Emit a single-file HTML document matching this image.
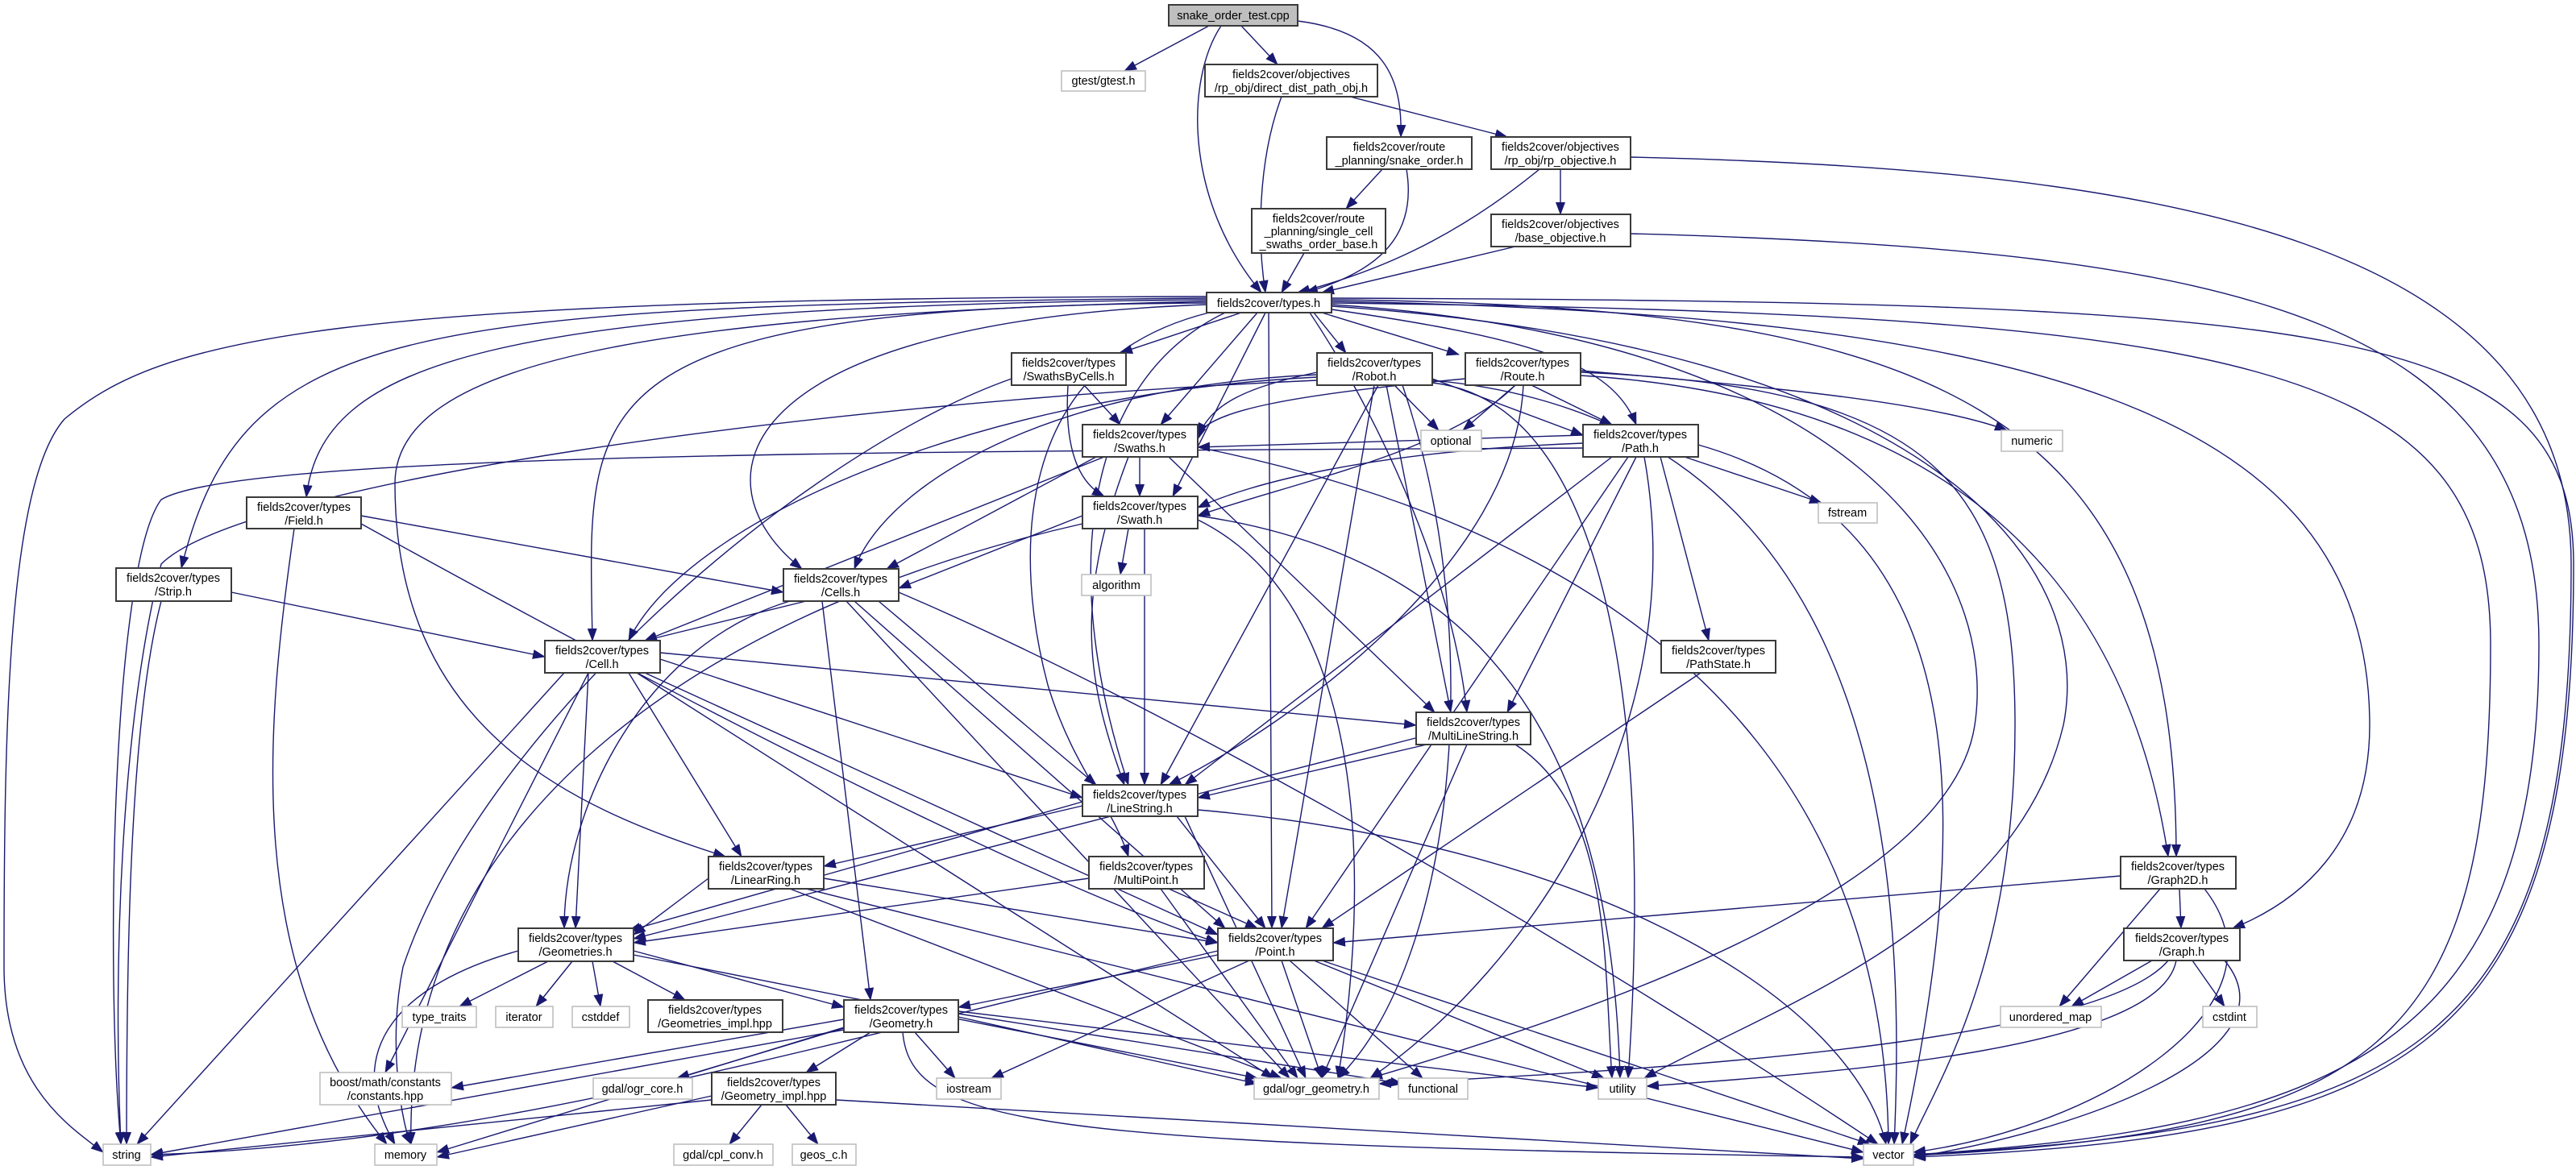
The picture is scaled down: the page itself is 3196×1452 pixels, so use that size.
<!DOCTYPE html>
<html><head><meta charset="utf-8"><style>
html,body{margin:0;padding:0;background:#fff;}
svg{display:block;}
text{font-family:"Liberation Sans","DejaVu Sans",sans-serif;font-size:14.5px;fill:#000;text-anchor:middle;}
.e{fill:none;stroke:#191970;stroke-width:1.4;marker-end:url(#a);}
.n{fill:#fff;stroke:#3a3a3a;stroke-width:2;}
.g{fill:#fff;stroke:#bfbfbf;stroke-width:1.6;}
</style></head><body>
<svg width="3196" height="1452" viewBox="0 0 3196 1452" xmlns="http://www.w3.org/2000/svg">
<defs><marker id="a" markerUnits="userSpaceOnUse" markerWidth="16" markerHeight="12" refX="15" refY="6" orient="auto"><path d="M0,0 L16,6 L0,12 z" fill="#191970"/></marker></defs>
<g>
<path class="e" d="M1500,32 L1395,88"/>
<path class="e" d="M1540,32 L1585,80"/>
<path class="e" d="M1515,32 C1470,100 1470,250 1565,363"/>
<path class="e" d="M1610,26 C1720,40 1740,100 1738,170"/>
<path class="e" d="M1590,120 C1560,200 1560,300 1570,363"/>
<path class="e" d="M1675,120 L1870,170"/>
<path class="e" d="M1715,210 L1670,259"/>
<path class="e" d="M1745,210 C1760,300 1700,340 1620,363"/>
<path class="e" d="M1910,210 C1800,300 1700,340 1610,363"/>
<path class="e" d="M1936,210 L1936,266"/>
<path class="e" d="M2023,195 C2700,210 3190,300 3190,700 C3190,1300 3000,1400 2374,1433"/>
<path class="e" d="M1880,306 L1640,363"/>
<path class="e" d="M2023,290 C2800,310 3150,400 3150,800 C3150,1300 2900,1400 2374,1433"/>
<path class="e" d="M1618,314 L1590,363"/>
<path class="e" d="M1540,388 L1390,438"/>
<path class="e" d="M1630,388 L1670,438"/>
<path class="e" d="M1640,388 L1810,440"/>
<path class="e" d="M1560,388 L1440,527"/>
<path class="e" d="M1570,388 L1455,616"/>
<path class="e" d="M1652,384 C1900,420 2000,450 2030,527"/>
<path class="e" d="M1574,388 L1578,1152"/>
<path class="e" d="M1520,388 C1350,470 1310,700 1400,974"/>
<path class="e" d="M1625,388 C1700,500 1800,700 1820,884"/>
<path class="e" d="M1500,388 C1250,450 1260,700 1300,850 C1330,950 1380,1000 1400,1063"/>
<path class="e" d="M1497,378 C900,400 860,600 995,706"/>
<path class="e" d="M1497,376 C700,380 730,500 735,795"/>
<path class="e" d="M1497,372 C600,380 400,450 380,617"/>
<path class="e" d="M1497,370 C500,380 300,400 225,705"/>
<path class="e" d="M1497,368 C400,370 200,420 80,520 C10,600 5,900 5,1200 C5,1350 90,1400 128,1430"/>
<path class="e" d="M1497,374 C800,390 490,450 490,600 C490,900 700,1000 900,1063"/>
<path class="e" d="M1652,372 C2400,380 2700,500 2700,1063"/>
<path class="e" d="M1652,374 C2500,390 2940,500 2940,900 C2940,1050 2850,1120 2770,1152"/>
<path class="e" d="M1652,378 C2300,420 2480,700 2450,900 C2420,1100 2000,1250 1700,1338"/>
<path class="e" d="M1652,380 C2400,430 2600,700 2560,900 C2500,1150 2200,1250 2040,1338"/>
<path class="e" d="M1652,370 C2900,375 3193,400 3193,700 C3193,1300 3000,1410 2374,1436"/>
<path class="e" d="M1652,376 C2800,390 3090,450 3090,800 C3090,1300 2950,1405 2374,1434"/>
<path class="e" d="M1730,478 L1785,534"/>
<path class="e" d="M1777,470 L1964,540"/>
<path class="e" d="M1634,462 C1550,480 1500,500 1486,545"/>
<path class="e" d="M1710,478 L1440,974"/>
<path class="e" d="M1720,478 L1800,884"/>
<path class="e" d="M1705,478 L1590,1152"/>
<path class="e" d="M1740,478 C1850,800 1800,1200 1660,1338"/>
<path class="e" d="M1634,465 C1300,480 1100,600 1060,706"/>
<path class="e" d="M1634,468 C1200,490 850,650 780,795"/>
<path class="e" d="M1634,472 C1000,500 300,600 200,700 C150,900 140,1200 150,1420"/>
<path class="e" d="M1777,475 C2000,500 2050,900 2020,1338"/>
<path class="e" d="M1777,472 C2300,520 2370,1000 2350,1420"/>
<path class="e" d="M1880,478 L1815,534"/>
<path class="e" d="M1900,478 L2000,527"/>
<path class="e" d="M1818,470 C1600,490 1500,510 1486,540"/>
<path class="e" d="M1880,478 C1800,560 1600,600 1486,640"/>
<path class="e" d="M1890,478 C1880,700 1600,900 1450,974"/>
<path class="e" d="M1961,460 C2200,480 2400,500 2490,534"/>
<path class="e" d="M1961,462 C2400,480 2500,600 2500,900 C2500,1200 2400,1350 2370,1420"/>
<path class="e" d="M1961,466 C2500,500 2650,800 2690,1063"/>
<path class="e" d="M1345,478 L1390,527"/>
<path class="e" d="M1325,478 C1320,560 1340,600 1370,616"/>
<path class="e" d="M1255,470 C1000,560 600,900 500,1200 C480,1300 500,1400 510,1420"/>
<path class="e" d="M1414,567 L1414,616"/>
<path class="e" d="M1360,567 L1100,706"/>
<path class="e" d="M1370,567 L800,795"/>
<path class="e" d="M1450,567 L1780,884"/>
<path class="e" d="M1400,567 C1330,750 1350,850 1395,974"/>
<path class="e" d="M1486,555 C2200,700 2340,1100 2343,1420"/>
<path class="e" d="M1964,550 C1700,560 1550,600 1486,630"/>
<path class="e" d="M1964,540 L1486,555"/>
<path class="e" d="M2060,567 L2120,795"/>
<path class="e" d="M2090,567 L2260,624"/>
<path class="e" d="M2030,567 L1870,884"/>
<path class="e" d="M2000,567 L1470,974"/>
<path class="e" d="M2020,567 L1620,1152"/>
<path class="e" d="M2040,567 C2100,900 1900,1200 1700,1338"/>
<path class="e" d="M2107,552 C2450,650 2450,1000 2360,1420"/>
<path class="e" d="M1964,556 C1200,560 300,560 200,620 C140,700 130,1200 150,1420"/>
<path class="e" d="M448,640 L972,735"/>
<path class="e" d="M448,650 C900,900 1300,1100 1511,1170"/>
<path class="e" d="M365,656 C330,900 300,1200 480,1420"/>
<path class="e" d="M287,735 L676,815"/>
<path class="e" d="M200,746 C160,900 157,1200 157,1420"/>
<path class="e" d="M1343,640 L1115,730"/>
<path class="e" d="M1400,656 L1390,713"/>
<path class="e" d="M1420,656 L1420,974"/>
<path class="e" d="M1486,640 C1900,700 2000,1000 2010,1338"/>
<path class="e" d="M1486,645 C1700,750 1700,1100 1660,1338"/>
<path class="e" d="M1343,650 C900,750 500,1000 510,1420"/>
<path class="e" d="M1000,746 L800,795"/>
<path class="e" d="M1090,746 L1360,974"/>
<path class="e" d="M1060,746 L1520,1152"/>
<path class="e" d="M1020,746 L1080,1241"/>
<path class="e" d="M1050,746 L1600,1338"/>
<path class="e" d="M1115,735 C1500,900 2000,1200 2330,1420"/>
<path class="e" d="M980,746 C800,800 700,1000 700,1152"/>
<path class="e" d="M730,835 L714,1152"/>
<path class="e" d="M819,818 L1343,990"/>
<path class="e" d="M780,835 L920,1063"/>
<path class="e" d="M819,810 L1757,900"/>
<path class="e" d="M800,835 L1511,1160"/>
<path class="e" d="M790,835 L1580,1338"/>
<path class="e" d="M730,835 L478,1331"/>
<path class="e" d="M700,835 L170,1420"/>
<path class="e" d="M2110,835 L1640,1152"/>
<path class="e" d="M1770,924 L1486,990"/>
<path class="e" d="M1760,915 L786,1165"/>
<path class="e" d="M1820,924 L1640,1338"/>
<path class="e" d="M1880,924 C2000,1000 1990,1200 2000,1338"/>
<path class="e" d="M1343,1000 L1022,1075"/>
<path class="e" d="M1460,1013 L1570,1152"/>
<path class="e" d="M1343,995 L780,1155"/>
<path class="e" d="M1470,1013 L1620,1338"/>
<path class="e" d="M1486,1005 C2000,1050 2300,1250 2340,1420"/>
<path class="e" d="M879,1090 L786,1160"/>
<path class="e" d="M1022,1090 L1511,1170"/>
<path class="e" d="M980,1103 L1590,1338"/>
<path class="e" d="M1000,1103 L2312,1430"/>
<path class="e" d="M1351,1090 L786,1170"/>
<path class="e" d="M1450,1103 L1560,1152"/>
<path class="e" d="M1440,1103 L1610,1338"/>
<path class="e" d="M2631,1087 L1654,1170"/>
<path class="e" d="M2704,1103 L2706,1152"/>
<path class="e" d="M2680,1103 L2555,1249"/>
<path class="e" d="M2735,1103 C2850,1250 2600,1400 2374,1430"/>
<path class="e" d="M1511,1185 L1189,1250"/>
<path class="e" d="M1550,1192 L1230,1338"/>
<path class="e" d="M1600,1192 L1765,1338"/>
<path class="e" d="M1630,1192 L1990,1338"/>
<path class="e" d="M1590,1192 L1640,1338"/>
<path class="e" d="M1640,1192 L2320,1420"/>
<path class="e" d="M1511,1180 C1000,1300 600,1420 187,1433"/>
<path class="e" d="M680,1193 L570,1249"/>
<path class="e" d="M710,1193 L665,1249"/>
<path class="e" d="M735,1193 L745,1249"/>
<path class="e" d="M760,1193 L850,1241"/>
<path class="e" d="M786,1180 L1047,1250"/>
<path class="e" d="M643,1180 C500,1220 420,1300 490,1420"/>
<path class="e" d="M786,1185 L1560,1338"/>
<path class="e" d="M2670,1192 L2570,1249"/>
<path class="e" d="M2720,1192 L2760,1249"/>
<path class="e" d="M2690,1192 C2600,1300 2000,1330 1711,1345"/>
<path class="e" d="M2700,1192 C2680,1300 2300,1330 2043,1348"/>
<path class="e" d="M2760,1192 C2850,1300 2600,1400 2374,1436"/>
<path class="e" d="M1047,1265 L560,1350"/>
<path class="e" d="M1050,1275 L840,1338"/>
<path class="e" d="M1080,1281 L1000,1331"/>
<path class="e" d="M1135,1281 L1185,1338"/>
<path class="e" d="M1189,1262 L1560,1345"/>
<path class="e" d="M1189,1258 L1740,1345"/>
<path class="e" d="M1189,1255 L1983,1350"/>
<path class="e" d="M1120,1281 C1130,1400 1300,1420 2312,1436"/>
<path class="e" d="M1047,1275 L542,1430"/>
<path class="e" d="M1047,1278 L187,1433"/>
<path class="e" d="M945,1371 L905,1420"/>
<path class="e" d="M975,1371 L1015,1420"/>
<path class="e" d="M883,1365 L187,1436"/>
<path class="e" d="M883,1360 L542,1436"/>
<path class="e" d="M1037,1365 L2312,1438"/>
</g>
<g>
<rect x="1450" y="6" width="160" height="26" fill="#bfbfbf" stroke="#3a3a3a" stroke-width="2"/><text x="1530" y="24">snake_order_test.cpp</text>
<rect class="g" x="1317" y="88" width="104" height="25"/><text x="1369" y="105">gtest/gtest.h</text>
<rect class="n" x="1495" y="80" width="214" height="40"/><text x="1602" y="97">fields2cover/objectives</text><text x="1602" y="114">/rp_obj/direct_dist_path_obj.h</text>
<rect class="n" x="1646" y="170" width="180" height="40"/><text x="1736" y="187">fields2cover/route</text><text x="1736" y="204">_planning/snake_order.h</text>
<rect class="n" x="1850" y="170" width="173" height="40"/><text x="1936" y="187">fields2cover/objectives</text><text x="1936" y="204">/rp_obj/rp_objective.h</text>
<rect class="n" x="1553" y="259" width="166" height="55"/><text x="1636" y="276">fields2cover/route</text><text x="1636" y="292">_planning/single_cell</text><text x="1636" y="308">_swaths_order_base.h</text>
<rect class="n" x="1850" y="266" width="173" height="40"/><text x="1936" y="283">fields2cover/objectives</text><text x="1936" y="300">/base_objective.h</text>
<rect class="n" x="1497" y="363" width="155" height="25"/><text x="1574" y="381">fields2cover/types.h</text>
<rect class="n" x="1255" y="438" width="142" height="40"/><text x="1326" y="455">fields2cover/types</text><text x="1326" y="472">/SwathsByCells.h</text>
<rect class="n" x="1634" y="438" width="143" height="40"/><text x="1705" y="455">fields2cover/types</text><text x="1705" y="472">/Robot.h</text>
<rect class="n" x="1818" y="438" width="143" height="40"/><text x="1889" y="455">fields2cover/types</text><text x="1889" y="472">/Route.h</text>
<rect class="g" x="1763" y="534" width="75" height="26"/><text x="1800" y="552">optional</text>
<rect class="g" x="2483" y="534" width="76" height="26"/><text x="2521" y="552">numeric</text>
<rect class="n" x="1343" y="527" width="143" height="40"/><text x="1414" y="544">fields2cover/types</text><text x="1414" y="561">/Swaths.h</text>
<rect class="n" x="1964" y="527" width="143" height="40"/><text x="2035" y="544">fields2cover/types</text><text x="2035" y="561">/Path.h</text>
<rect class="g" x="2256" y="624" width="73" height="25"/><text x="2292" y="641">fstream</text>
<rect class="n" x="306" y="617" width="142" height="39"/><text x="377" y="634">fields2cover/types</text><text x="377" y="651">/Field.h</text>
<rect class="n" x="1343" y="616" width="143" height="40"/><text x="1414" y="633">fields2cover/types</text><text x="1414" y="650">/Swath.h</text>
<rect class="g" x="1342" y="713" width="86" height="26"/><text x="1385" y="731">algorithm</text>
<rect class="n" x="144" y="705" width="143" height="41"/><text x="215" y="722">fields2cover/types</text><text x="215" y="739">/Strip.h</text>
<rect class="n" x="972" y="706" width="143" height="40"/><text x="1043" y="723">fields2cover/types</text><text x="1043" y="740">/Cells.h</text>
<rect class="n" x="676" y="795" width="143" height="40"/><text x="747" y="812">fields2cover/types</text><text x="747" y="829">/Cell.h</text>
<rect class="n" x="2061" y="795" width="142" height="40"/><text x="2132" y="812">fields2cover/types</text><text x="2132" y="829">/PathState.h</text>
<rect class="n" x="1757" y="884" width="142" height="40"/><text x="1828" y="901">fields2cover/types</text><text x="1828" y="918">/MultiLineString.h</text>
<rect class="n" x="1343" y="974" width="143" height="39"/><text x="1414" y="991">fields2cover/types</text><text x="1414" y="1008">/LineString.h</text>
<rect class="n" x="879" y="1063" width="143" height="40"/><text x="950" y="1080">fields2cover/types</text><text x="950" y="1097">/LinearRing.h</text>
<rect class="n" x="1351" y="1063" width="143" height="40"/><text x="1422" y="1080">fields2cover/types</text><text x="1422" y="1097">/MultiPoint.h</text>
<rect class="n" x="2631" y="1063" width="143" height="40"/><text x="2702" y="1080">fields2cover/types</text><text x="2702" y="1097">/Graph2D.h</text>
<rect class="n" x="1511" y="1152" width="143" height="40"/><text x="1582" y="1169">fields2cover/types</text><text x="1582" y="1186">/Point.h</text>
<rect class="n" x="643" y="1152" width="143" height="41"/><text x="714" y="1169">fields2cover/types</text><text x="714" y="1186">/Geometries.h</text>
<rect class="n" x="2635" y="1152" width="144" height="40"/><text x="2707" y="1169">fields2cover/types</text><text x="2707" y="1186">/Graph.h</text>
<rect class="g" x="499" y="1249" width="92" height="26"/><text x="545" y="1267">type_traits</text>
<rect class="g" x="615" y="1249" width="71" height="26"/><text x="650" y="1267">iterator</text>
<rect class="g" x="710" y="1249" width="71" height="26"/><text x="745" y="1267">cstddef</text>
<rect class="n" x="804" y="1241" width="167" height="40"/><text x="887" y="1258">fields2cover/types</text><text x="887" y="1275">/Geometries_impl.hpp</text>
<rect class="n" x="1047" y="1241" width="142" height="40"/><text x="1118" y="1258">fields2cover/types</text><text x="1118" y="1275">/Geometry.h</text>
<rect class="g" x="2482" y="1249" width="125" height="26"/><text x="2544" y="1267">unordered_map</text>
<rect class="g" x="2733" y="1249" width="67" height="26"/><text x="2766" y="1267">cstdint</text>
<rect class="g" x="397" y="1331" width="163" height="40"/><text x="478" y="1348">boost/math/constants</text><text x="478" y="1365">/constants.hpp</text>
<rect class="g" x="736" y="1338" width="123" height="26"/><text x="797" y="1356">gdal/ogr_core.h</text>
<rect class="n" x="883" y="1331" width="154" height="40"/><text x="960" y="1348">fields2cover/types</text><text x="960" y="1365">/Geometry_impl.hpp</text>
<rect class="g" x="1162" y="1338" width="80" height="26"/><text x="1202" y="1356">iostream</text>
<rect class="g" x="1556" y="1338" width="155" height="26"/><text x="1633" y="1356">gdal/ogr_geometry.h</text>
<rect class="g" x="1735" y="1338" width="86" height="26"/><text x="1778" y="1356">functional</text>
<rect class="g" x="1983" y="1338" width="60" height="26"/><text x="2013" y="1356">utility</text>
<rect class="g" x="128" y="1420" width="59" height="26"/><text x="157" y="1438">string</text>
<rect class="g" x="465" y="1420" width="77" height="26"/><text x="503" y="1438">memory</text>
<rect class="g" x="836" y="1420" width="123" height="26"/><text x="897" y="1438">gdal/cpl_conv.h</text>
<rect class="g" x="983" y="1420" width="79" height="26"/><text x="1022" y="1438">geos_c.h</text>
<rect class="g" x="2312" y="1420" width="62" height="26"/><text x="2343" y="1438">vector</text>
</g>
</svg>
</body></html>
